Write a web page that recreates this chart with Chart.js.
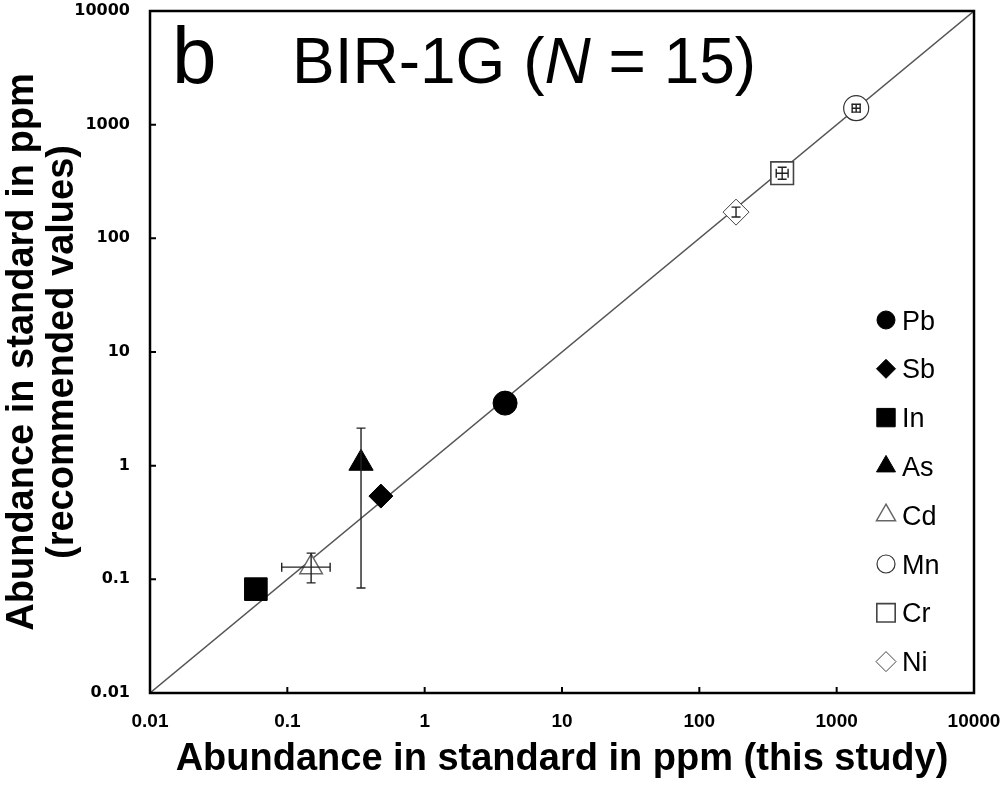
<!DOCTYPE html>
<html>
<head>
<meta charset="utf-8">
<script src="https://cdn.jsdelivr.net/npm/chart.js@4.4.1/dist/chart.umd.min.js"></script>
<style>
  html, body { margin: 0; padding: 0; background: #fff; }
  #wrap { width: 1000px; height: 787px; }
</style>
</head>
<body>
<div id="wrap"><canvas id="bir1g"></canvas></div>
<script>
// element symbols, in legend order
const elements = ['Pb', 'Sb', 'In', 'As', 'Cd', 'Mn', 'Cr', 'Ni'];
// abundance in ppm, this study (x) and recommended values (y)
const thisStudy = [3.85, 0.48, 0.059, 0.344, 0.149, 1387, 401, 185];
const recommended = [3.55, 0.54, 0.082, 1.05, 0.128, 1396, 374, 170];
// error bar ends (null = no bar)
const xErrLow = [null, null, null, null, 0.091, 1297, 363, null];
const xErrHigh = [null, null, null, null, 0.205, 1483, 443, null];
const yErrLow = [null, null, null, 0.084, 0.093, 1288, 331, 154];
const yErrHigh = [null, null, null, 2.14, 0.170, 1513, 422, 188];
// axis ticks
const tickValues = [0.01, 0.1, 1, 10, 100, 1000, 10000];
const tickLabels = ['0.01', '0.1', '1', '10', '100', '1000', '10000'];
// 1:1 line ends
const oneToOne = [0.01, 10000];

const FONT = '"Liberation Sans", Arial, sans-serif';

const markerStyle = {
    Pb: { pointStyle: 'circle', radius: 12, legendRadius: 9, fill: '#000', stroke: '#000', width: 1 },
    Sb: { pointStyle: 'rectRot', radius: 12, legendRadius: 9.5, fill: '#000', stroke: '#000', width: 1 },
    In: { pointStyle: 'rect', radius: 16, legendRadius: 13, fill: '#000', stroke: '#000', width: 1 },
    As: { pointStyle: 'triangle', radius: 14, legendRadius: 11, fill: '#000', stroke: '#000', width: 1 },
    Cd: { pointStyle: 'triangle', radius: 13, legendRadius: 11, fill: '#fff', stroke: '#666', width: 1.5 },
    Mn: { pointStyle: 'circle', radius: 12.5, legendRadius: 9, fill: '#fff', stroke: '#333', width: 1.2 },
    Cr: { pointStyle: 'rect', radius: 16, legendRadius: 13, fill: '#fff', stroke: '#444', width: 1.6 },
    Ni: { pointStyle: 'rectRot', radius: 13, legendRadius: 10, fill: '#fff', stroke: '#444', width: 1 }
};

const datasets = [{
    label: '1:1',
    type: 'line',
    data: oneToOne.map(v => ({ x: v, y: v })),
    borderColor: '#555',
    borderWidth: 1.4,
    pointRadius: 0,
    order: 10
}];

elements.forEach((el, i) => {
    const s = markerStyle[el];
    datasets.push({
        label: el,
        data: [{ x: thisStudy[i], y: recommended[i] }],
        pointStyle: s.pointStyle,
        pointRadius: s.radius,
        backgroundColor: s.fill,
        borderColor: s.stroke,
        borderWidth: s.width,
        order: 1
    });
});

// error bars drawn over the markers
const errorBars = {
    id: 'errorBars',
    afterDatasetsDraw(chart) {
        const { ctx, scales: { x, y } } = chart;
        const cap = 4.5;
        ctx.save();
        ctx.strokeStyle = '#222';
        ctx.lineWidth = 1.4;
        elements.forEach((el, i) => {
            const px = x.getPixelForValue(thisStudy[i]);
            const py = y.getPixelForValue(recommended[i]);
            if (xErrLow[i] !== null) {
                const a = x.getPixelForValue(xErrLow[i]);
                const b = x.getPixelForValue(xErrHigh[i]);
                ctx.beginPath();
                ctx.moveTo(a, py); ctx.lineTo(b, py);
                ctx.moveTo(a, py - cap); ctx.lineTo(a, py + cap);
                ctx.moveTo(b, py - cap); ctx.lineTo(b, py + cap);
                ctx.stroke();
            }
            if (yErrLow[i] !== null) {
                const a = y.getPixelForValue(yErrLow[i]);
                const b = y.getPixelForValue(yErrHigh[i]);
                ctx.beginPath();
                ctx.moveTo(px, a); ctx.lineTo(px, b);
                ctx.moveTo(px - cap, a); ctx.lineTo(px + cap, a);
                ctx.moveTo(px - cap, b); ctx.lineTo(px + cap, b);
                ctx.stroke();
            }
        });
        ctx.restore();
    }
};

// frame, inward ticks, panel title and legend
const decorations = {
    id: 'decorations',
    afterDraw(chart) {
        const { ctx, chartArea: a, scales: { x, y } } = chart;
        ctx.save();
        ctx.strokeStyle = '#000';
        ctx.lineWidth = 2;
        ctx.beginPath();
        tickValues.slice(1, -1).forEach(v => {
            const px = x.getPixelForValue(v);
            ctx.moveTo(px, a.bottom); ctx.lineTo(px, a.bottom - 6);
            const py = y.getPixelForValue(v);
            ctx.moveTo(a.left, py); ctx.lineTo(a.left + 6, py);
        });
        ctx.stroke();
        ctx.lineWidth = 2.5;
        ctx.strokeRect(a.left, a.top, a.right - a.left, a.bottom - a.top);

        // panel label and title
        ctx.fillStyle = '#000';
        ctx.textBaseline = 'alphabetic';
        ctx.textAlign = 'left';
        ctx.font = '80px ' + FONT;
        ctx.fillText('b', 172, 83);
        let tx = 292;
        const parts = [['BIR-1G (', 'normal'], ['N', 'italic'], [' = 15)', 'normal']];
        parts.forEach(([t, style]) => {
            ctx.font = style + ' 64px ' + FONT;
            ctx.fillText(t, tx, 83);
            tx += ctx.measureText(t).width;
        });

        // legend
        const lx = 886, ly0 = 320, step = 48.8;
        elements.forEach((el, i) => {
            const s = markerStyle[el];
            const yy = ly0 + i * step;
            ctx.fillStyle = s.fill;
            ctx.strokeStyle = s.stroke;
            ctx.lineWidth = s.width;
            Chart.helpers.drawPoint(ctx, { pointStyle: s.pointStyle, radius: s.legendRadius, rotation: 0, borderWidth: s.width }, lx, yy);
            ctx.fillStyle = '#000';
            ctx.font = '27px ' + FONT;
            ctx.fillText(el, 902, yy + 9.5);
        });
        ctx.restore();
    }
};

new Chart(document.getElementById('bir1g'), {
    type: 'scatter',
    data: { datasets: datasets },
    options: {
        responsive: true,
        maintainAspectRatio: false,
        animation: false,
        layout: { autoPadding: false, padding: { top: 11, right: 26, left: 0, bottom: 0 } },
        plugins: {
            legend: { display: false },
            tooltip: { enabled: false }
        },
        scales: {
            x: {
                type: 'logarithmic',
                min: 0.01,
                max: 10000,
                afterBuildTicks: scale => { scale.ticks = tickValues.map(v => ({ value: v })); },
                afterFit: scale => {
                    scale.height = 94;
                    scale.paddingLeft = 0;
                    scale.paddingRight = 0;
                },
                grid: { display: false, drawTicks: false },
                border: { display: false },
                ticks: {
                    autoSkip: false,
                    maxRotation: 0,
                    padding: 17,
                    color: '#000',
                    font: { family: FONT, size: 19, weight: 'bold' },
                    callback: (v, i) => tickLabels[i]
                },
                title: {
                    display: true,
                    text: 'Abundance in standard in ppm (this study)',
                    color: '#000',
                    font: { family: FONT, size: 38, weight: 'bold', lineHeight: 1.2 },
                    padding: { top: 0, bottom: 5 }
                }
            },
            y: {
                type: 'logarithmic',
                min: 0.01,
                max: 10000,
                afterBuildTicks: scale => { scale.ticks = tickValues.map(v => ({ value: v })); },
                afterFit: scale => {
                    scale.width = 150;
                    scale.paddingTop = 0;
                    scale.paddingBottom = 0;
                },
                grid: { display: false, drawTicks: false },
                border: { display: false },
                ticks: {
                    autoSkip: false,
                    padding: 20,
                    color: '#000',
                    font: { family: '"DejaVu Sans", sans-serif', size: 16, weight: 'bold' },
                    callback: (v, i) => tickLabels[i]
                },
                title: {
                    display: true,
                    text: ['Abundance in standard in ppm', '(recommended values)'],
                    color: '#000',
                    font: { family: FONT, size: 38, weight: 'bold', lineHeight: 1.06 },
                    padding: { top: 2, bottom: 0 }
                }
            }
        }
    },
    plugins: [errorBars, decorations]
});
</script>
</body>
</html>
